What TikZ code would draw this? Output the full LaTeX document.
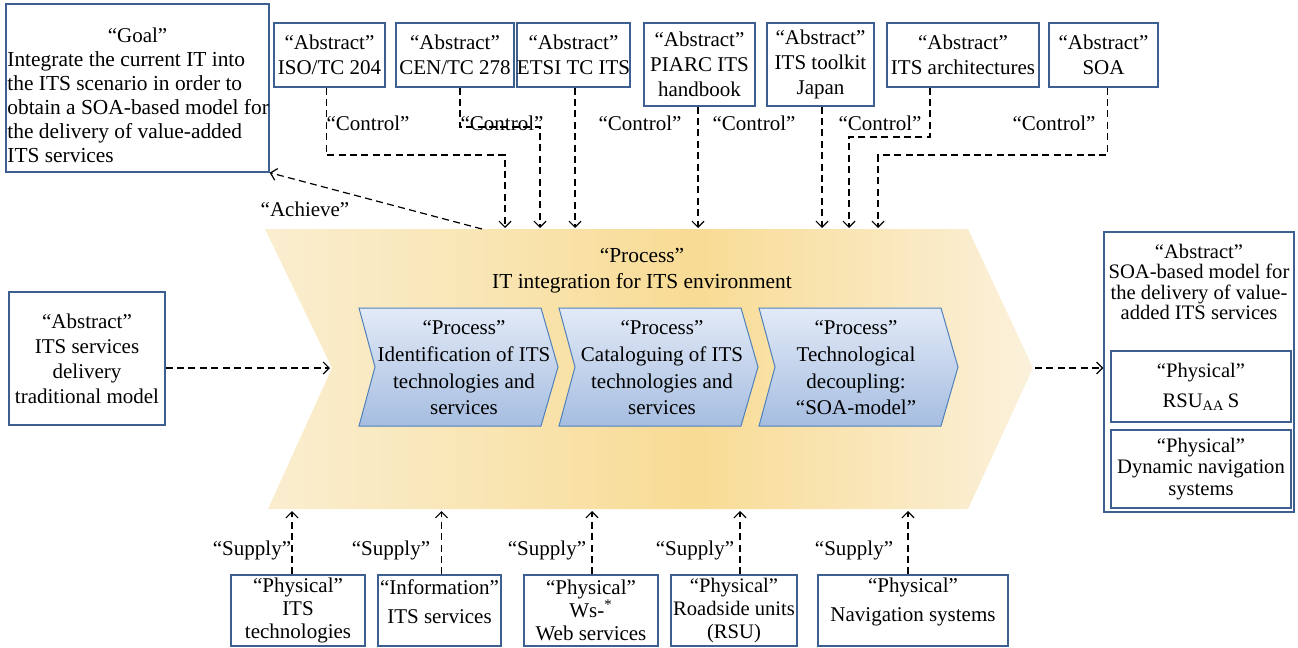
\documentclass[tikz,border=0pt]{standalone}
\usepackage{fontspec}
\setmainfont{Liberation Serif}
\usetikzlibrary{arrows.meta}
\definecolor{boxblue}{RGB}{62,96,145}
\definecolor{chevborder}{RGB}{79,129,189}
\definecolor{chevtop}{RGB}{226,234,247}
\definecolor{chevbot}{RGB}{166,189,224}
\definecolor{ylA}{RGB}{250,238,208}
\definecolor{ylAB}{RGB}{249,229,178}
\definecolor{ylB}{RGB}{248,219,148}
\definecolor{ylC}{RGB}{251,241,219}
\pgfdeclarehorizontalshading{bigarrowshade}{100bp}{color(0bp)=(ylA); color(25bp)=(ylA); color(40bp)=(ylAB); color(53bp)=(ylB); color(75bp)=(ylC); color(100bp)=(ylC)}
\begin{document}
\begin{tikzpicture}[x=0.5pt,y=-0.5pt,
  box/.style={draw=boxblue, line width=0.65pt, inner sep=0pt, align=center, font=\fontsize{10.5}{12.5}\selectfont},
  lbl/.style={inner sep=0pt, font=\fontsize{10.5}{12.5}\selectfont},
  conn/.style={draw=black, line width=0.6pt, dash pattern=on 3.5pt off 2.2pt, -{Straight Barb[length=3pt,width=6pt]}},
  chev/.style={draw=chevborder, line width=0.5pt, top color=chevtop, bottom color=chevbot},
  chevtext/.style={inner sep=0pt, align=center, font=\fontsize{10.5}{13.3}\selectfont}]
\useasboundingbox (0,0) rectangle (1298,648);

% big process arrow
\path[shading=bigarrowshade] (265,229) -- (968,229) -- (1033,368) -- (968,509) -- (268,509) -- (332,368) -- cycle;
\coordinate (notch) at (330,368);
\coordinate (tip) at (1035,368);
\node[chevtext, font=\fontsize{10.7}{13}\selectfont] (ptitle) at (642,271) {“Process”\\IT integration for ITS environment};

% sub processes
\path[chev] (359,308) -- (541,308) -- (558,367) -- (541,426) -- (359,426) -- (375,367) -- cycle;
\path[chev] (559,308) -- (741,308) -- (758,367) -- (741,426) -- (559,426) -- (575,367) -- cycle;
\path[chev] (759,308) -- (941,308) -- (958,367) -- (941,426) -- (759,426) -- (775,367) -- cycle;
\node[chevtext] (p1) at (464,368) {“Process”\\Identification of ITS\\technologies and\\services};
\node[chevtext] (p2) at (662,368) {“Process”\\Cataloguing of ITS\\technologies and\\services};
\node[chevtext] (p3) at (856,368) {“Process”\\Technological\\decoupling:\\“SOA-model”};

% goal
\node[box, minimum width=131.5pt, minimum height=84pt] (goal) at (137.5,88) {};
\node[lbl] (goaltitle) at (137.5,35) {“Goal”};
\node[lbl, anchor=west, align=left, font=\fontsize{10.7}{12}\selectfont] (goalbody) at (7,107) {Integrate the current IT into\\the ITS scenario in order to\\obtain a SOA-based model for\\the delivery of value-added\\ITS services};

% top abstract boxes
\node[box, minimum width=55.5pt, minimum height=32pt] (iso) at (329.5,55) {“Abstract”\\ISO/TC 204};
\node[box, minimum width=59pt, minimum height=32pt] (cen) at (455,55) {“Abstract”\\CEN/TC 278};
\node[box, minimum width=53.5pt, minimum height=32pt] (etsi) at (573.5,55) {“Abstract”\\ETSI TC ITS};
\node[box, minimum width=55.5pt, minimum height=41.5pt] (piarc) at (699.5,64.5) {“Abstract”\\PIARC ITS\\handbook};
\node[box, minimum width=53.5pt, minimum height=41.5pt] (toolkit) at (820.5,64.5) {“Abstract”\\ITS toolkit\\Japan};
\node[box, minimum width=76pt, minimum height=32pt] (arch) at (963,55) {“Abstract”\\ITS architectures};
\node[box, minimum width=54.5pt, minimum height=32pt] (soa) at (1103.5,55) {“Abstract”\\SOA};

% control connectors
\coordinate (bend1) at (505,155); \coordinate (c1) at (505,228);
\coordinate (bend2) at (540,127); \coordinate (c2) at (540,228);
\coordinate (c3) at (575,228);
\coordinate (c4) at (698,228);
\coordinate (c5) at (822,228);
\coordinate (bend6) at (849,137); \coordinate (c6) at (849,228);
\coordinate (bend7) at (878,155); \coordinate (c7) at (878,228);
\draw[conn] ([xshift=-1.7pt]iso.south) |- (bend1) -- (c1);
\draw[conn] ([xshift=2.5pt]cen.south) |- (bend2) -- (c2);
\draw[conn] (etsi.south -| c3) -- (c3);
\draw[conn] (piarc.south -| c4) -- (c4);
\draw[conn] (toolkit.south -| c5) -- (c5);
\draw[conn] ([xshift=-16.5pt]arch.south) |- (bend6) -- (c6);
\draw[conn] ([xshift=2pt]soa.south) |- (bend7) -- (c7);
\node[lbl] (ctl1) at (368,123) {“Control”};
\node[lbl] (ctl2) at (502,123) {“Control”};
\node[lbl] (ctl3) at (640,123) {“Control”};
\node[lbl] (ctl4) at (754,123) {“Control”};
\node[lbl] (ctl5) at (880,123) {“Control”};
\node[lbl] (ctl6) at (1054,123) {“Control”};

% achieve
\coordinate (c0) at (482,229);
\draw[conn] (c0) -- (goal.south east);
\node[lbl] (ach) at (305,209) {“Achieve”};

% left input
\node[box, minimum width=78pt, minimum height=66.5pt] (trad) at (87,358.5) {“Abstract”\\ITS services\\delivery\\traditional model};
\draw[conn] (trad.east |- notch) -- (notch);

% right output
\node[box, minimum width=95pt, minimum height=140pt] (rbox) at (1199,372) {};
\node[lbl, align=center, font=\fontsize{10.3}{10.3}\selectfont] (rtext) at (1199,282) {“Abstract”\\SOA-based model for\\the delivery of value-\\added ITS services};
\node[box, minimum width=90pt, minimum height=35.5pt, font=\fontsize{10.3}{15}\selectfont] (rsu) at (1201,386.5) {“Physical”\\RSU\textsubscript{AA}\,S};
\node[box, minimum width=90pt, minimum height=39pt, font=\fontsize{10.3}{10.6}\selectfont] (dyn) at (1201,469) {“Physical”\\Dynamic navigation\\systems};
\draw[conn] (tip) -- (rbox.west |- tip);

% bottom supply boxes
\node[box, minimum width=67pt, minimum height=35.5pt, font=\fontsize{10.5}{11.5}\selectfont] (sup1) at (298,610.5) {“Physical”\\ITS\\technologies};
\node[box, minimum width=61.5pt, minimum height=35.5pt] (sup2) at (439.5,610.5) {};
\node[lbl, align=center, font=\fontsize{10.5}{14.5}\selectfont] (sup2t) at (439.5,602) {“Information”\\ITS services};
\node[box, minimum width=67pt, minimum height=35.5pt, font=\fontsize{10.5}{11.5}\selectfont] (sup3) at (591,610.5) {“Physical”\\Ws-\textsuperscript{*}\\Web services};
\node[box, minimum width=63pt, minimum height=35.5pt, font=\fontsize{10.3}{11.5}\selectfont] (sup4) at (734,610.5) {“Physical”\\Roadside units\\(RSU)};
\node[box, minimum width=95pt, minimum height=35.5pt] (sup5) at (913,610.5) {};
\node[lbl, align=center, font=\fontsize{10.5}{14.5}\selectfont] (sup5t) at (913,602) {“Physical”\\Navigation systems};

\coordinate (bot) at (0,511);
\draw[conn] ([xshift=-3pt]sup1.north) -- ([xshift=-3pt]sup1.north |- bot);
\draw[conn] ([xshift=1pt]sup2.north) -- ([xshift=1pt]sup2.north |- bot);
\draw[conn] ([xshift=0.5pt]sup3.north) -- ([xshift=0.5pt]sup3.north |- bot);
\draw[conn] ([xshift=3pt]sup4.north) -- ([xshift=3pt]sup4.north |- bot);
\draw[conn] ([xshift=-2.5pt]sup5.north) -- ([xshift=-2.5pt]sup5.north |- bot);
\node[lbl] (sl1) at (252,550) {“Supply”};
\node[lbl] (sl2) at (391,550) {“Supply”};
\node[lbl] (sl3) at (547,550) {“Supply”};
\node[lbl] (sl4) at (695,550) {“Supply”};
\node[lbl] (sl5) at (854,550) {“Supply”};
\end{tikzpicture}
\end{document}
